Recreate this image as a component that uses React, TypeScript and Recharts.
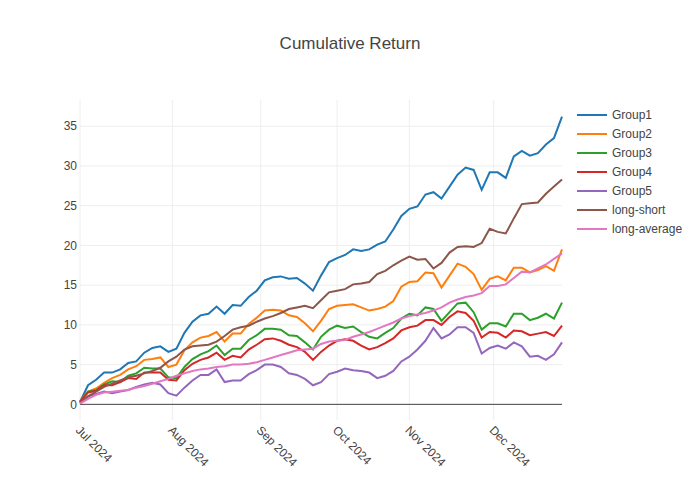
import { LineChart, Line, XAxis, YAxis, CartesianGrid, Legend, ReferenceLine } from "recharts";

// trading-day index (every 2nd session, Jul 1 2024 = 0)
const DAYS = [
  0, 2, 4, 6, 8, 10, 12, 14, 16, 18, 20, 22, 24, 26, 28, 30, 32, 34, 36, 38,
  40, 42, 44, 46, 48, 50, 52, 54, 56, 58, 60, 62, 64, 66, 68, 70, 72, 74, 76, 78,
  80, 82, 84, 86, 88, 90, 92, 94, 96, 98, 100, 102, 104, 106, 108, 110, 112, 114, 116, 118,
  120,
];

const MONTH_TICKS = [0, 23, 45, 64, 82, 103];
const MONTH_LABELS = ["Jul 2024", "Aug 2024", "Sep 2024", "Oct 2024", "Nov 2024", "Dec 2024"];
const Y_TICKS = [0, 5, 10, 15, 20, 25, 30, 35];

const GROUP1 = [
  0.3, 2.4, 3.1, 4.0, 4.0, 4.4, 5.2, 5.4, 6.5, 7.1,
  7.3, 6.6, 7.0, 9.0, 10.4, 11.2, 11.4, 12.3, 11.4, 12.5,
  12.4, 13.5, 14.3, 15.6, 16.0, 16.1, 15.8, 15.9, 15.2, 14.3,
  16.2, 17.9, 18.4, 18.8, 19.5, 19.3, 19.5, 20.1, 20.5, 22.0,
  23.7, 24.6, 24.9, 26.4, 26.7, 25.9, 27.4, 28.9, 29.8, 29.5,
  27.0, 29.2, 29.2, 28.5, 31.2, 31.9, 31.3, 31.6, 32.7, 33.5,
  36.2,
];
const GROUP2 = [
  0.4, 1.6, 2.0, 2.7, 3.3, 3.7, 4.4, 4.8, 5.6, 5.7,
  5.9, 4.7, 5.0, 6.8, 7.8, 8.4, 8.6, 9.1, 7.9, 8.9,
  8.9, 10.1, 10.9, 11.8, 11.9, 11.8, 11.2, 11.0, 10.2, 9.2,
  10.5, 12.0, 12.4, 12.5, 12.6, 12.2, 11.8, 12.0, 12.3, 13.0,
  14.8, 15.4, 15.5, 16.6, 16.5, 14.7, 16.2, 17.7, 17.3, 16.4,
  14.4, 15.8, 16.1, 15.6, 17.2, 17.2, 16.6, 16.9, 17.4, 16.8,
  19.5,
];
const GROUP3 = [
  0.3, 1.6, 1.8, 2.5, 2.9, 2.8, 3.6, 3.9, 4.6, 4.5,
  4.5, 3.4, 3.3, 4.7, 5.7, 6.3, 6.7, 7.4, 6.2, 7.0,
  7.0, 8.1, 8.7, 9.5, 9.5, 9.4, 8.7, 8.6, 7.8, 6.9,
  8.5, 9.4, 9.9, 9.6, 9.8, 9.1, 8.5, 8.3, 9.0, 9.6,
  10.8, 11.4, 11.2, 12.2, 12.0, 10.5, 11.6, 12.7, 12.8, 11.6,
  9.4, 10.2, 10.2, 9.8, 11.4, 11.4, 10.6, 10.9, 11.4, 10.8,
  12.8,
];
const GROUP4 = [
  0.3, 1.5, 1.7, 2.4, 2.4, 2.8, 3.3, 3.2, 4.0, 4.0,
  4.0, 3.1, 3.0, 4.3, 5.1, 5.6, 5.9, 6.5, 5.6, 6.1,
  5.9, 6.9, 7.5, 8.2, 8.3, 8.0, 7.5, 7.2, 6.6, 5.6,
  6.6, 7.4, 8.0, 8.2, 8.0, 7.4, 6.9, 7.2, 7.7, 8.3,
  9.3, 9.7, 9.9, 10.6, 10.6, 10.0, 11.0, 11.7, 11.5, 10.5,
  8.4, 9.1, 9.0, 8.4, 9.3, 9.2, 8.7, 8.9, 9.1, 8.6,
  9.9,
];
const GROUP5 = [
  0.1, 1.0, 1.3, 1.6, 1.4, 1.6, 1.8, 2.2, 2.5, 2.7,
  2.5, 1.4, 1.1, 2.1, 3.0, 3.7, 3.7, 4.4, 2.8, 3.0,
  3.0, 3.8, 4.3, 5.0, 5.0, 4.7, 3.9, 3.7, 3.2, 2.4,
  2.8, 3.8, 4.1, 4.5, 4.3, 4.2, 4.0, 3.3, 3.6, 4.2,
  5.4, 6.0, 6.9, 8.0, 9.6, 8.3, 8.8, 9.7, 9.7, 9.0,
  6.4, 7.1, 7.4, 7.0, 7.8, 7.3, 6.0, 6.1, 5.6, 6.3,
  7.8,
];
const LONG_SHORT = [
  0.1, 1.0, 1.6, 2.2, 2.6, 3.0, 3.4, 3.6, 3.9, 4.2,
  4.6, 5.4, 6.0, 6.9, 7.3, 7.4, 7.5, 7.9, 8.6, 9.4,
  9.7, 9.9, 10.4, 10.8, 11.1, 11.5, 12.0, 12.2, 12.4, 12.1,
  13.1, 14.1, 14.3, 14.5, 15.1, 15.2, 15.4, 16.4, 16.8, 17.5,
  18.1, 18.6, 18.2, 18.3, 17.1, 17.8, 19.1, 19.8, 19.9, 19.8,
  20.3, 22.1, 21.7, 21.5, 23.4, 25.2, 25.3, 25.4, 26.5, 27.4,
  28.3,
];
const LONG_AVERAGE = [
  0.1, 0.7, 1.2, 1.5, 1.6, 1.7, 1.8, 2.1, 2.3, 2.6,
  2.9, 3.2, 3.6, 3.9, 4.2, 4.4, 4.5, 4.7, 4.8, 5.0,
  5.0, 5.1, 5.3, 5.6, 5.9, 6.2, 6.5, 6.8, 6.9, 7.0,
  7.6, 7.9, 8.0, 8.1, 8.5, 8.8, 9.1, 9.5, 9.9, 10.3,
  10.8, 11.1, 11.3, 11.5, 11.8, 12.2, 12.8, 13.2, 13.5, 13.7,
  14.0, 14.9, 14.9, 15.1, 15.9, 16.7, 16.6, 17.1, 17.6, 18.3,
  19.0,
];

const SERIES = [
  { name: "Group1", values: GROUP1, color: "#1f77b4" },
  { name: "Group2", values: GROUP2, color: "#ff7f0e" },
  { name: "Group3", values: GROUP3, color: "#2ca02c" },
  { name: "Group4", values: GROUP4, color: "#d62728" },
  { name: "Group5", values: GROUP5, color: "#9467bd" },
  { name: "long-short", values: LONG_SHORT, color: "#8c564b" },
  { name: "long-average", values: LONG_AVERAGE, color: "#e377c2" },
];

const data = DAYS.map((t, i) => {
  const row: any = { t };
  SERIES.forEach((s) => {
    row[s.name] = s.values[i];
  });
  return row;
});

const FONT = "Arial, 'Liberation Sans', sans-serif";

function MonthTick(props: any) {
  const { x, y, payload } = props;
  const idx = MONTH_TICKS.indexOf(payload.value);
  const tx = x - 2;
  const ty = y + 6;
  return (
    <text
      x={tx}
      y={ty}
      dy="0.35em"
      transform={`rotate(45, ${tx}, ${ty})`}
      textAnchor="start"
      fontSize={12}
      fill="#444"
      fontFamily={FONT}
    >
      {MONTH_LABELS[idx]}
    </text>
  );
}

function PlotlyLegend(props: any) {
  const items = [...(props.payload || [])].sort(
    (a: any, b: any) =>
      SERIES.findIndex((s) => s.name === a.value) - SERIES.findIndex((s) => s.name === b.value)
  );
  return (
    <div style={{ fontFamily: FONT, fontSize: 12, color: "#444" }}>
      {items.map((it: any) => (
        <div key={it.value} style={{ display: "flex", alignItems: "center", height: 19 }}>
          <svg width={30} height={4} style={{ marginRight: 5 }}>
            <line x1={0} y1={2} x2={30} y2={2} stroke={it.color} strokeWidth={2} />
          </svg>
          <span>{it.value}</span>
        </div>
      ))}
    </div>
  );
}

export default function App() {
  return (
    <div style={{ position: "absolute", left: 0, top: 0, width: 700, height: 500, background: "#fff" }}>
      <div
        style={{
          position: "absolute",
          left: 0,
          top: 34,
          width: 700,
          textAlign: "center",
          fontFamily: FONT,
          fontSize: 17,
          color: "#444",
        }}
      >
        Cumulative Return
      </div>
      <LineChart width={700} height={500} data={data} margin={{ top: 100, right: 138, bottom: 0, left: 0 }}>
        <CartesianGrid stroke="#eee" strokeWidth={1} syncWithTicks />
        <XAxis
          dataKey="t"
          type="number"
          domain={[0, 120]}
          ticks={MONTH_TICKS}
          interval={0}
          height={80}
          axisLine={false}
          tickLine={false}
          tickSize={0}
          tick={<MonthTick />}
        />
        <YAxis
          type="number"
          domain={[-1.97, 38.3]}
          ticks={Y_TICKS}
          interval={0}
          width={80}
          axisLine={false}
          tickLine={false}
          tickSize={0}
          tickMargin={3}
          tick={{ fontSize: 12, fill: "#444", fontFamily: FONT }}
          allowDataOverflow
        />
        <ReferenceLine y={0} stroke="#444" strokeWidth={1} />
        <Legend
          layout="vertical"
          align="center"
          verticalAlign="middle"
          wrapperStyle={{ left: 577, top: 105, width: 120 }}
          content={<PlotlyLegend />}
        />
        {SERIES.map((s) => (
          <Line
            key={s.name}
            type="linear"
            dataKey={s.name}
            name={s.name}
            stroke={s.color}
            strokeWidth={2}
            dot={false}
            isAnimationActive={false}
          />
        ))}
      </LineChart>
    </div>
  );
}
